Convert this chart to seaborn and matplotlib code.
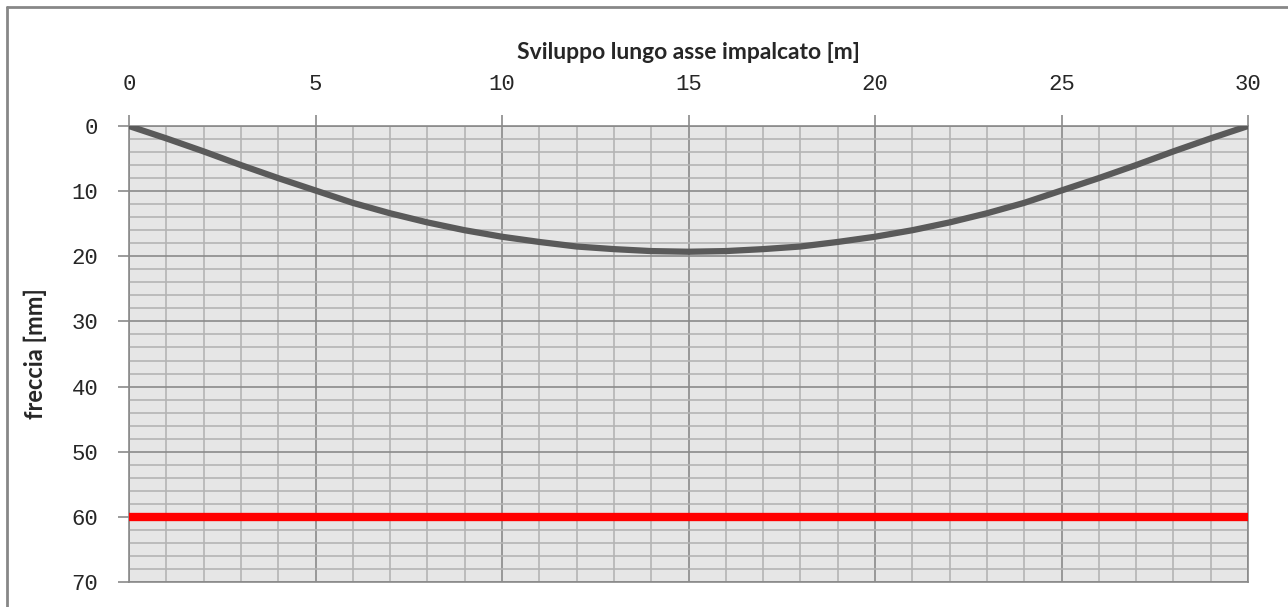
import numpy as np
import pandas as pd
import matplotlib
matplotlib.use("Agg")
import matplotlib.pyplot as plt
from matplotlib.ticker import MultipleLocator
from matplotlib.lines import Line2D
import seaborn as sns

# Deck deflection along the span [m] -> [mm]
position_m = [0, 1, 2, 3, 4, 5, 6, 7, 8, 9, 10, 11, 12, 13, 14, 15,
              16, 17, 18, 19, 20, 21, 22, 23, 24, 25, 26, 27, 28, 29, 30]
deflection_mm = [0.0, 1.9, 3.9, 6.0, 8.0, 9.9, 11.8, 13.4, 14.8, 16.0, 17.0,
                 17.8, 18.5, 18.9, 19.2, 19.3, 19.2, 18.9, 18.5, 17.8, 17.0,
                 16.0, 14.8, 13.4, 11.8, 9.9, 8.0, 6.0, 3.9, 1.9, 0.0]
deflection_limit_mm = 60
x_ticks = [0, 5, 10, 15, 20, 25, 30]
y_ticks = [0, 10, 20, 30, 40, 50, 60, 70]

df = pd.DataFrame({"x": position_m, "f": deflection_mm})

sns.set_style("white")
plt.rcParams["font.family"] = ["Lato", "DejaVu Sans"]

fig = plt.figure(figsize=(12.88, 6.07), dpi=100)
ax = fig.add_axes([129 / 1288, 1 - 582 / 607, (1248 - 129) / 1288, (582 - 126) / 607])
ax.set_facecolor("#e6e6e6")

# grid: minor every 1 m / 2 mm, major every 5 m / 10 mm
ax.xaxis.set_major_locator(MultipleLocator(5))
ax.xaxis.set_minor_locator(MultipleLocator(1))
ax.yaxis.set_major_locator(MultipleLocator(10))
ax.yaxis.set_minor_locator(MultipleLocator(2))
ax.grid(which="minor", color="#b4b4b4", linewidth=1.2, zorder=0)
ax.grid(which="major", color="#8a8a8a", linewidth=1.2, zorder=0)
ax.set_axisbelow(True)

sns.lineplot(data=df, x="x", y="f", ax=ax, color="#5a5a5a", linewidth=4.5,
             zorder=3)
ax.axhline(deflection_limit_mm, color="#ff0000", linewidth=6, zorder=4)

ax.set_xlim(0, 30)
ax.set_ylim(70, 0)
ax.set_xticks(x_ticks)
ax.set_yticks(y_ticks)
ax.xaxis.tick_top()
ax.xaxis.set_label_position("top")

mono = ["Liberation Mono", "DejaVu Sans Mono"]
ax.set_xticklabels([str(v) for v in x_ticks], fontsize=16, family=mono)
ax.set_yticklabels([str(v) for v in y_ticks], fontsize=16, family=mono)
ax.tick_params(axis="both", which="major", direction="out", length=8,
               width=1.2, color="#8a8a8a")
ax.tick_params(axis="x", which="major", top=True, bottom=False, pad=14)
ax.tick_params(axis="y", which="major", left=True, right=False, pad=14)
ax.tick_params(which="minor", length=0)

ax.set_xlabel("Sviluppo lungo asse impalcato [m]", fontsize=16.5,
              fontweight="bold", labelpad=11)
ax.set_ylabel("freccia [mm]", fontsize=17, fontweight="bold", labelpad=18)

for side in ["top", "left", "right", "bottom"]:
    ax.spines[side].set_color("#8a8a8a")
    ax.spines[side].set_linewidth(1.2)

# chart-area frame
fig.add_artist(Line2D([7 / 1288, 1.0], [1 - 7 / 607, 1 - 7 / 607],
                      transform=fig.transFigure, color="#878787", linewidth=2))
fig.add_artist(Line2D([7 / 1288, 7 / 1288], [0.0, 1 - 7 / 607],
                      transform=fig.transFigure, color="#878787", linewidth=2))

fig.savefig("out.png", dpi=100)
